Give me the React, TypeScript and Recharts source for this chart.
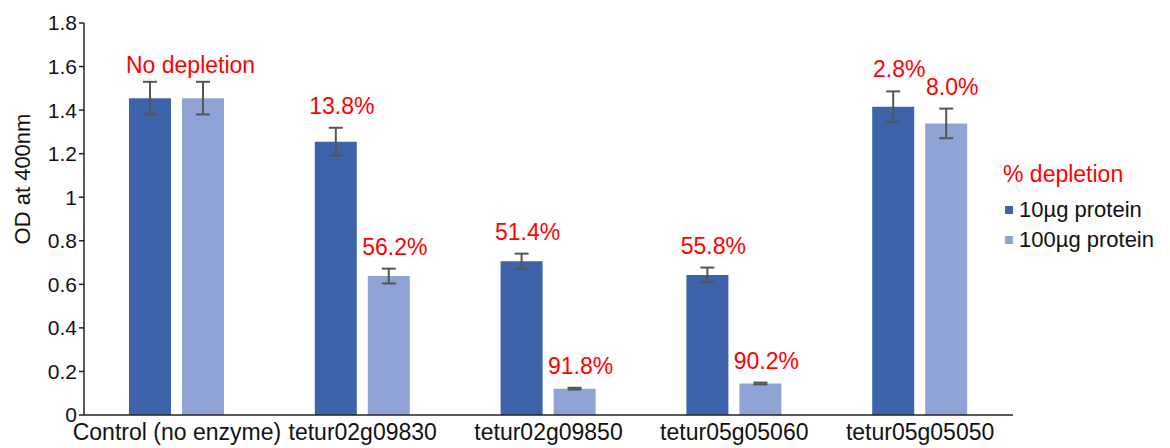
import { Bar, BarChart, ErrorBar, LabelList, Legend, XAxis, YAxis } from 'recharts';

const categories = ['Control (no enzyme)', 'tetur02g09830', 'tetur02g09850', 'tetur05g05060', 'tetur05g05050'];
const seriesNames = ['10µg protein', '100µg protein'];
const od10 = [1.455, 1.255, 0.706, 0.643, 1.416];
const err10 = [0.075, 0.064, 0.035, 0.034, 0.07];
const od100 = [1.455, 0.638, 0.121, 0.145, 1.339];
const err100 = [0.075, 0.034, 0.004, 0.004, 0.068];
const depletion10 = ['No depletion', '13.8%', '51.4%', '55.8%', '2.8%'];
const depletion100 = ['', '56.2%', '91.8%', '90.2%', '8.0%'];
const yTicks = [0, 0.2, 0.4, 0.6, 0.8, 1, 1.2, 1.4, 1.6, 1.8];

const FONT = '"Liberation Sans", Arial, sans-serif';
const DARK = '#3d64aa';
const LIGHT = '#8fa3d4';
const RED = '#ff0000';
const AXIS = '#222';

const data = categories.map((name, i) => ({
  name,
  od10: od10[i],
  err10: err10[i],
  od100: od100[i],
  err100: err100[i],
  lab10: depletion10[i],
  lab100: depletion100[i],
}));

// puts the % text just above the error bar cap
const pctLabel = (values: number[], errs: number[]) => (props: any) => {
  const { x, y, width, height, value, index } = props;
  if (!value) return null;
  const pxPerUnit = height / values[index];
  const capTop = y - errs[index] * pxPerUnit;
  const isNote = !String(value).endsWith('%');
  return (
    <text
      x={isNote ? x - 3 : x + width / 2 + 6}
      y={capTop - (isNote ? 9 : 14)}
      textAnchor={isNote ? 'start' : 'middle'}
      fill={RED}
      fontSize={23}
      fontFamily={FONT}
    >
      {value}
    </text>
  );
};

const renderLegend = (props: any) => {
  const payload = [...(props.payload || [])].sort(
    (a: any, b: any) => seriesNames.indexOf(a.value) - seriesNames.indexOf(b.value),
  );
  return (
    <div style={{ fontFamily: FONT, textAlign: 'left', color: '#111' }}>
      <div style={{ color: RED, fontSize: 23, lineHeight: '30px', marginBottom: 6 }}>% depletion</div>
      {payload.map((p: any) => (
        <div key={p.value} style={{ display: 'flex', alignItems: 'center', fontSize: 22, lineHeight: '30px' }}>
          <span style={{ width: 8, height: 8, background: p.color, marginLeft: 2, marginRight: 6 }} />
          {p.value}
        </div>
      ))}
    </div>
  );
};

const yTitle = (props: any) => {
  const { viewBox } = props;
  const cx = viewBox.x + 22;
  const cy = viewBox.y + viewBox.height / 2 - 40;
  return (
    <text x={cx} y={cy} transform={`rotate(-90 ${cx} ${cy})`} textAnchor="middle" dominantBaseline="central" fontSize={22} fontFamily={FONT} fill="#111">
      OD at 400nm
    </text>
  );
};

export default function App() {
  return (
    <div style={{ position: 'absolute', left: 0, top: 0, background: '#fff' }}>
      <BarChart
        width={1170}
        height={448}
        data={data}
        margin={{ top: 23, right: 157, bottom: 0, left: 0 }}
        barSize={42}
        barGap={11}
        style={{ fontFamily: FONT }}
      >
        <XAxis
          dataKey="name"
          interval={0}
          tickLine={false}
          height={33}
          tickMargin={3}
          axisLine={{ stroke: AXIS, strokeWidth: 1.5 }}
          tick={{ fontSize: 23, fill: '#111', fontFamily: FONT }}
        />
        <YAxis
          width={84}
          domain={[0, 1.8]}
          ticks={yTicks}
          interval={0}
          tickSize={5}
          tickMargin={2}
          axisLine={{ stroke: AXIS, strokeWidth: 1.5 }}
          tickLine={{ stroke: AXIS, strokeWidth: 1.5 }}
          tick={{ fontSize: 21, fill: '#111', fontFamily: FONT }}
          label={{ content: yTitle }}
        />
        <Legend
          layout="vertical"
          align="center"
          verticalAlign="middle"
          itemSorter={null}
          wrapperStyle={{ left: 1003, top: 159, width: 167 }}
          content={renderLegend}
        />
        <Bar dataKey="od10" name={seriesNames[0]} fill={DARK} isAnimationActive={false}>
          <ErrorBar dataKey="err10" width={7} strokeWidth={2} stroke="#555" />
          <LabelList dataKey="lab10" content={pctLabel(od10, err10)} />
        </Bar>
        <Bar dataKey="od100" name={seriesNames[1]} fill={LIGHT} isAnimationActive={false}>
          <ErrorBar dataKey="err100" width={7} strokeWidth={2} stroke="#555" />
          <LabelList dataKey="lab100" content={pctLabel(od100, err100)} />
        </Bar>
      </BarChart>
    </div>
  );
}
